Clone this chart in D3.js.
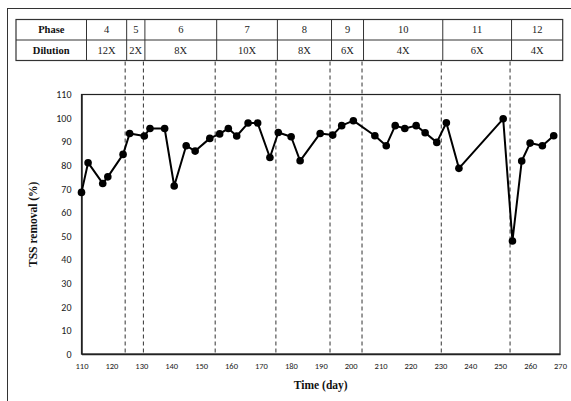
<!DOCTYPE html>
<html>
<head>
<meta charset="utf-8">
<script src="https://cdn.jsdelivr.net/npm/d3@7"></script>
<style>
  html, body { margin: 0; padding: 0; background: #fff; }
  svg { display: block; }
</style>
</head>
<body>
<svg id="chart" width="571" height="401"></svg>
<script>
// TSS removal over the operating period
const days = [110, 112.2, 117.1, 118.8, 123.9, 126.1, 131, 132.9, 137.8, 141,
  145, 148, 152.9, 156.2, 159.1, 161.9, 165.7, 168.9, 173, 175.8,
  180.1, 183.1, 189.8, 194, 197, 200.9, 208.1, 211.9, 214.9, 218.1,
  221.9, 224.9, 228.8, 232, 236.2, 251, 254.1, 257.2, 260, 264.1, 267.9];
const tssRemoval = [68.5, 81.1, 72.3, 75.1, 84.6, 93.5, 92.4, 95.6, 95.6, 71.2,
  88.3, 86, 91.4, 93.3, 95.6, 92.4, 97.9, 97.9, 83.3, 93.9,
  92.1, 81.9, 93.5, 92.8, 96.8, 98.9, 92.5, 88.3, 96.8, 95.6,
  96.8, 93.8, 89.7, 98, 78.7, 99.7, 47.9, 81.8, 89.4, 88.3, 92.5];

// Phase table
const phases = ["4", "5", "6", "7", "8", "9", "10", "11", "12"];
const dilutions = ["12X", "2X", "8X", "10X", "8X", "6X", "4X", "6X", "4X"];
const phaseBreaks = [124.6, 130.7, 154.7, 175, 193.1, 203.8, 230.3, 253.3];

const xTicks = d3.range(110, 271, 10);
const yTicks = d3.range(0, 111, 10);

const svg = d3.select("#chart");
const serif = "'Liberation Serif', 'Times New Roman', serif";
const sans = "Carlito, 'Liberation Sans', Arial, sans-serif";

const plot = { left: 81.5, right: 560, top: 94.5, bottom: 354 };
const x = d3.scaleLinear().domain([110, 270]).range([plot.left, plot.right]);
const y = d3.scaleLinear().domain([0, 110]).range([plot.bottom, plot.top]);

// outer frame
svg.append("rect")
  .attr("x", 7.5).attr("y", 8.5).attr("width", 620).attr("height", 500)
  .attr("fill", "none").attr("stroke", "#333").attr("stroke-width", 1);

// plot border
svg.append("rect")
  .attr("x", plot.left).attr("y", plot.top)
  .attr("width", plot.right - plot.left).attr("height", plot.bottom - plot.top)
  .attr("fill", "none").attr("stroke", "#222").attr("stroke-width", 1.2);

// axes (no tick marks)
const yAxis = svg.append("g")
  .attr("transform", `translate(${plot.left},0)`)
  .call(d3.axisLeft(y).tickValues(yTicks).tickSize(0).tickPadding(10));
yAxis.select(".domain").attr("stroke", "#222").attr("stroke-width", 1.5);
yAxis.selectAll("text").attr("font-family", sans).attr("font-size", 10).attr("fill", "#222");

const xAxis = svg.append("g")
  .attr("transform", `translate(0,${plot.bottom})`)
  .call(d3.axisBottom(x).tickValues(xTicks).tickSize(0).tickPadding(9));
xAxis.select(".domain").attr("stroke", "#222").attr("stroke-width", 1.5);
xAxis.selectAll("text").attr("font-family", sans).attr("font-size", 8.5).attr("fill", "#222");

// table
const tTop = 19.5, tMid = 40, tBot = 60.5, tLeft = 16;
const labelEdge = x(110) + 5;
const tRight = x(270) + 2.7;
const edges = [labelEdge, ...phaseBreaks.map(d => x(d) + 1.5), tRight];

const table = svg.append("g");
table.append("rect")
  .attr("x", tLeft).attr("y", tTop).attr("width", tRight - tLeft).attr("height", tBot - tTop)
  .attr("fill", "none").attr("stroke", "#333").attr("stroke-width", 1.2);
table.append("line")
  .attr("x1", tLeft).attr("x2", tRight).attr("y1", tMid).attr("y2", tMid)
  .attr("stroke", "#333").attr("stroke-width", 1);
table.selectAll("line.col")
  .data(edges.slice(0, -1))
  .join("line").attr("class", "col")
  .attr("x1", d => d).attr("x2", d => d).attr("y1", tTop).attr("y2", tBot)
  .attr("stroke", "#333").attr("stroke-width", 1);

table.append("text")
  .attr("x", (tLeft + labelEdge) / 2).attr("y", (tTop + tMid) / 2 + 3.5)
  .attr("text-anchor", "middle").attr("font-family", serif)
  .attr("font-size", 10.5).attr("font-weight", "bold").attr("fill", "#111")
  .text("Phase");
table.append("text")
  .attr("x", (tLeft + labelEdge) / 2).attr("y", (tMid + tBot) / 2 + 3.5)
  .attr("text-anchor", "middle").attr("font-family", serif)
  .attr("font-size", 10.5).attr("font-weight", "bold").attr("fill", "#111")
  .text("Dilution");

table.selectAll("text.phase")
  .data(phases)
  .join("text").attr("class", "phase")
  .attr("x", (d, i) => (edges[i] + edges[i + 1]) / 2)
  .attr("y", (tTop + tMid) / 2 + 3.5)
  .attr("text-anchor", "middle").attr("font-family", serif)
  .attr("font-size", 10.5).attr("fill", "#222")
  .text(d => d);
table.selectAll("text.dil")
  .data(dilutions)
  .join("text").attr("class", "dil")
  .attr("x", (d, i) => (edges[i] + edges[i + 1]) / 2)
  .attr("y", (tMid + tBot) / 2 + 3.5)
  .attr("text-anchor", "middle").attr("font-family", serif)
  .attr("font-size", 10.5).attr("fill", "#222")
  .text(d => d);

// phase boundaries
svg.selectAll("line.phase-break")
  .data(phaseBreaks)
  .join("line").attr("class", "phase-break")
  .attr("x1", d => x(d)).attr("x2", d => x(d))
  .attr("y1", tBot + 1).attr("y2", plot.bottom)
  .attr("stroke", "#333").attr("stroke-width", 1)
  .attr("stroke-dasharray", "4,3");

// series
const pts = days.map((d, i) => [d, tssRemoval[i]]);
svg.append("path")
  .datum(pts)
  .attr("fill", "none").attr("stroke", "#000").attr("stroke-width", 2)
  .attr("stroke-linejoin", "round")
  .attr("d", d3.line().x(d => x(d[0])).y(d => y(d[1])));
svg.selectAll("circle.pt")
  .data(pts)
  .join("circle").attr("class", "pt")
  .attr("cx", d => x(d[0])).attr("cy", d => y(d[1])).attr("r", 3.8)
  .attr("fill", "#000");

// axis titles
svg.append("text")
  .attr("transform", `translate(37,${(plot.top + plot.bottom) / 2}) rotate(-90)`)
  .attr("text-anchor", "middle").attr("font-family", serif)
  .attr("font-size", 11.5).attr("font-weight", "bold").attr("fill", "#111")
  .text("TSS removal (%)");
svg.append("text")
  .attr("x", (plot.left + plot.right) / 2).attr("y", 389)
  .attr("text-anchor", "middle").attr("font-family", serif)
  .attr("font-size", 11.5).attr("font-weight", "bold").attr("fill", "#111")
  .text("Time (day)");
</script>
</body>
</html>
